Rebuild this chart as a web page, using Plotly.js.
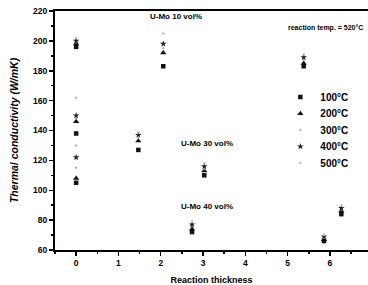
<!DOCTYPE html>
<html><head><meta charset="utf-8">
<script src="https://cdn.plot.ly/plotly-3.0.1.min.js"></script>
<style>html,body{margin:0;padding:0;background:#fff}#chart{width:368px;height:285px}</style>
</head><body><div id="chart"></div>
<script>
// Reaction thickness positions of each cluster
const thickness = [0, 0, 0, 1.47, 2.06, 2.74, 3.03, 5.38, 5.86, 6.27];
const temps = ["100°C", "200°C", "300°C", "400°C", "500°C"];
const k100 = [196, 138, 105, 127, 183, 72, 110, 183, 66, 84];
const k200 = [198, 146, 108, 133, 192, 74, 113, 185, 67, 86];
const k300 = [199, 148, 115, 135, 195, 76, 114, 187, 68, 87];
const k400 = [200, 150, 122, 137, 198, 77, 116, 189, 69, 88];
const k500 = [202, 162, 130, 139, 205, 79, 118, 191, 70, 90];
const seriesVals = [k100, k200, k300, k400, k500];
const xTicks = [0, 1, 2, 3, 4, 5, 6];
const yTicks = [60, 80, 100, 120, 140, 160, 180, 200, 220];

const markerStyles = [
  {symbol: "square", size: 4.5, color: "#111"},
  {symbol: "triangle-up", size: 5.5, color: "#111"},
  {symbol: "circle", size: 2, color: "#999"},
  {symbol: "star", size: 5, color: "#222"},
  {symbol: "circle", size: 2.5, color: "#bbb"}
];
const legendIds = ["legend", "legend2", "legend3", "legend4", "legend5"];

const traces = temps.map((t, i) => ({
  x: thickness, y: seriesVals[i], name: t, type: "scatter", mode: "markers",
  marker: markerStyles[i], legend: legendIds[i]
}));

const F = "Liberation Sans, Arial, sans-serif";
const layout = {
  width: 368, height: 285,
  margin: {l: 55, r: 0, t: 11, b: 35},
  paper_bgcolor: "#fff", plot_bgcolor: "#fff",
  showlegend: true,
  xaxis: {range: [-0.5, 6.9], tickvals: xTicks, ticktext: xTicks.map(String),
    showgrid: false, zeroline: false, showline: true, linewidth: 2, linecolor: "#000",
    mirror: true, ticks: "outside", ticklen: 4, tickwidth: 1.5, tickcolor: "#000",
    minor: {dtick: 0.5, ticks: "outside", ticklen: 2, tickwidth: 1.5, tickcolor: "#000"},
    tickfont: {family: F, size: 8.5, weight: "bold", color: "#000"},
    title: {text: "Reaction thickness", standoff: 10, font: {family: F, size: 9, weight: "bold", color: "#000"}}},
  yaxis: {range: [60, 220], tickvals: yTicks, ticktext: yTicks.map(String),
    showgrid: false, zeroline: false, showline: true, linewidth: 2, linecolor: "#000",
    ticks: "outside", ticklen: 4, tickwidth: 1.5, tickcolor: "#000",
    minor: {dtick: 10, ticks: "outside", ticklen: 2, tickwidth: 1.5, tickcolor: "#000"},
    tickfont: {family: F, size: 8.5, weight: "bold", color: "#000"},
    title: {text: "Thermal conductivity (W/mK)", standoff: 12, font: {family: F, size: 10.5, weight: "bold", style: "italic", color: "#000"}}},
  annotations: [
    {x: 2.36, y: 216.5, text: "U-Mo 10 vol%", showarrow: false, font: {family: F, size: 8, weight: "bold", color: "#000"}},
    {x: 5.9, y: 208.5, text: "reaction temp. = 520°C", showarrow: false, font: {family: F, size: 7, weight: "bold", color: "#000"}},
    {x: 3.1, y: 131, text: "U-Mo 30 vol%", showarrow: false, font: {family: F, size: 8, weight: "bold", color: "#000"}},
    {x: 3.1, y: 89, text: "U-Mo 40 vol%", showarrow: false, font: {family: F, size: 8, weight: "bold", color: "#000"}}
  ]
};
// separate legend boxes give the tight row spacing of the original
const rowPx = [97, 113.5, 130, 146.5, 163];
legendIds.forEach((id, i) => {
  layout[id] = {x: 0.72, y: 1 - (rowPx[i] - 11) / 239, xanchor: "left", yanchor: "middle",
    bgcolor: "rgba(0,0,0,0)", font: {family: F, size: 10, weight: "bold", color: "#000"},
    itemwidth: 30};
});
Plotly.newPlot("chart", traces, layout, {staticPlot: true, displayModeBar: false});
</script></body></html>
